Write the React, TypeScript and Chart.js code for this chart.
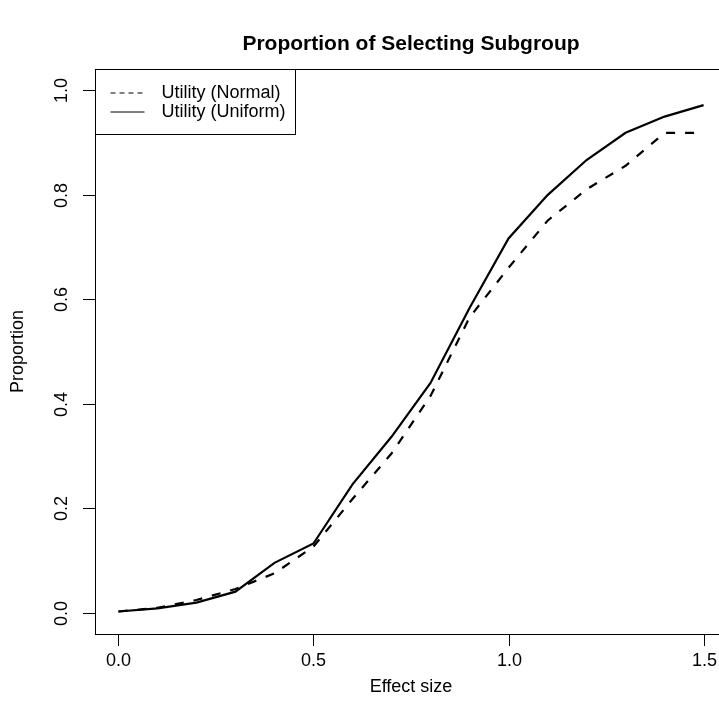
import { useEffect, useRef } from "react";
import { Chart, registerables } from "chart.js";

Chart.register(...registerables);

const effectSize = [0, 0.1, 0.2, 0.3, 0.4, 0.5, 0.6, 0.7, 0.8, 0.9, 1.0, 1.1, 1.2, 1.3, 1.4, 1.5];
const normalProp = [0.003, 0.01, 0.025, 0.046, 0.076, 0.127, 0.218, 0.305, 0.415, 0.565, 0.66, 0.75, 0.81, 0.855, 0.918, 0.918];
const uniformProp = [0.003, 0.009, 0.02, 0.041, 0.096, 0.133, 0.246, 0.337, 0.44, 0.583, 0.716, 0.799, 0.866, 0.918, 0.949, 0.971];

const xTickValues = [0, 0.5, 1.0, 1.5];
const xTickLabels = ["0.0", "0.5", "1.0", "1.5"];
const yTickValues = [0, 0.2, 0.4, 0.6, 0.8, 1.0];
const yTickLabels = ["0.0", "0.2", "0.4", "0.6", "0.8", "1.0"];
const seriesNames = ["Utility (Normal)", "Utility (Uniform)"];
const titleText = "Proportion of Selecting Subgroup";
const xLabel = "Effect size";
const yLabel = "Proportion";

const W = 760;
const H = 719;
const FONT = '"Liberation Sans", Arial, Helvetica, sans-serif';

const rPlot = {
  id: "rPlot",
  afterDraw(chart: any) {
    const { ctx, chartArea: a, scales } = chart;
    const xs = scales.x;
    const ys = scales.y;
    ctx.save();
    ctx.strokeStyle = "#000";
    ctx.fillStyle = "#000";
    ctx.lineWidth = 1;
    ctx.setLineDash([]);
    // box
    ctx.strokeRect(Math.round(a.left) + 0.5, Math.round(a.top) + 0.5, Math.round(a.right - a.left), Math.round(a.bottom - a.top));
    // x ticks
    ctx.font = `18px ${FONT}`;
    ctx.textAlign = "center";
    ctx.textBaseline = "middle";
    xTickValues.forEach((v, i) => {
      const px = Math.round(xs.getPixelForValue(v)) + 0.5;
      ctx.beginPath();
      ctx.moveTo(px, a.bottom);
      ctx.lineTo(px, a.bottom + 12);
      ctx.stroke();
      ctx.fillText(xTickLabels[i], px, a.bottom + 27);
    });
    // y ticks
    yTickValues.forEach((v, i) => {
      const py = Math.round(ys.getPixelForValue(v)) + 0.5;
      ctx.beginPath();
      ctx.moveTo(a.left - 12, py);
      ctx.lineTo(a.left, py);
      ctx.stroke();
      ctx.save();
      ctx.translate(a.left - 33, py);
      ctx.rotate(-Math.PI / 2);
      ctx.fillText(yTickLabels[i], 0, 0);
      ctx.restore();
    });
    // axis titles
    ctx.fillText(xLabel, (a.left + a.right) / 2, a.bottom + 53);
    ctx.save();
    ctx.translate(a.left - 77, (a.top + a.bottom) / 2);
    ctx.rotate(-Math.PI / 2);
    ctx.fillText(yLabel, 0, 0);
    ctx.restore();
    // title
    ctx.font = `bold 21px ${FONT}`;
    ctx.textBaseline = "middle";
    ctx.fillText(titleText, (a.left + a.right) / 2, 44);
    // legend
    const lx = Math.round(a.left) + 0.5;
    const ly = Math.round(a.top) + 0.5;
    ctx.fillStyle = "#fff";
    ctx.fillRect(lx, ly, 200, 65);
    ctx.strokeRect(lx, ly, 200, 65);
    ctx.fillStyle = "#000";
    ctx.font = `18px ${FONT}`;
    ctx.textAlign = "left";
    ctx.textBaseline = "middle";
    const rows = [
      { name: seriesNames[0], dash: [5, 4], y: ly + 23.5 },
      { name: seriesNames[1], dash: [], y: ly + 42.5 },
    ];
    rows.forEach((r) => {
      ctx.setLineDash(r.dash);
      ctx.beginPath();
      ctx.moveTo(lx + 15, r.y);
      ctx.lineTo(lx + 49, r.y);
      ctx.stroke();
      ctx.setLineDash([]);
      ctx.fillText(r.name, lx + 66, r.y);
    });
    ctx.restore();
  },
};

export default function App() {
  const ref = useRef<HTMLCanvasElement | null>(null);
  useEffect(() => {
    if (!ref.current) return;
    const chart = new Chart(ref.current, {
      type: "line",
      data: {
        datasets: [
          {
            label: seriesNames[0],
            data: effectSize.map((x, i) => ({ x, y: normalProp[i] })),
            borderColor: "#000",
            borderWidth: 2.2,
            borderDash: [9, 10],
            pointRadius: 0,
            tension: 0,
            fill: false,
          },
          {
            label: seriesNames[1],
            data: effectSize.map((x, i) => ({ x, y: uniformProp[i] })),
            borderColor: "#000",
            borderWidth: 2.2,
            pointRadius: 0,
            tension: 0,
            fill: false,
          },
        ],
      },
      options: {
        responsive: false,
        animation: false,
        devicePixelRatio: 1,
        layout: { padding: { left: 95, top: 69, right: W - 727, bottom: H - 634 } },
        plugins: { legend: { display: false }, tooltip: { enabled: false }, title: { display: false } },
        events: [],
        scales: {
          x: { type: "linear", min: -0.06, max: 1.56, display: false },
          y: { type: "linear", min: -0.04, max: 1.04, display: false },
        },
      },
      plugins: [rPlot],
    });
    return () => chart.destroy();
  }, []);
  return (
    <div style={{ position: "fixed", left: 0, top: 0, width: 719, height: 719, overflow: "hidden", background: "#fff" }}>
      <canvas ref={ref} width={W} height={H} style={{ width: W, height: H, display: "block" }} />
    </div>
  );
}
